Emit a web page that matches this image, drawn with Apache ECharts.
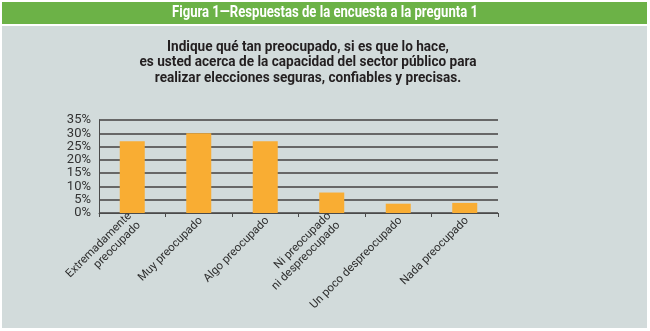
<!DOCTYPE html>
<html>
<head>
<meta charset="utf-8">
<script src="https://cdn.jsdelivr.net/npm/echarts@6/dist/echarts.min.js"></script>
<style>
  html, body { margin: 0; padding: 0; background: #ffffff; }
  #chart { width: 650px; height: 331px; }
</style>
</head>
<body>
<div id="chart"></div>
<script>
// Survey responses (percent of respondents)
const categories = [
  'Extremadamente\npreocupado',
  'Muy preocupado',
  'Algo preocupado',
  'Ni preocupado\nni despreocupado',
  'Un poco despreocupado',
  'Nada preocupado'
];
const percentages = [27, 30, 27, 7.7, 3.5, 3.8];
const yTicks = { min: 0, max: 35, step: 5 };

const headerText = 'Figura 1\u2014Respuestas de la encuesta a la pregunta 1';
const questionLines = [
  'Indique qué tan preocupado, si es que lo hace,',
  'es usted acerca de la capacidad del sector público para',
  'realizar elecciones seguras, confiables y precisas.'
];

const baseFont = 'Roboto, "Noto Sans", sans-serif';

// Condensed look: squeeze a bold line horizontally to a given width
const measureCtx = document.createElement('canvas').getContext('2d');
function squeezeFor(text, font, targetWidth) {
  measureCtx.font = font;
  return Math.min(1, targetWidth / measureCtx.measureText(text).width);
}

const headerFont = 'bold 16px ' + baseFont;
const questionFont = 'bold 15px ' + baseFont;
const headerScale = squeezeFor(headerText, headerFont, 306);
const questionScale = squeezeFor(questionLines[1], questionFont, 337);

const chart = echarts.init(document.getElementById('chart'), null, { renderer: 'canvas' });

chart.setOption({
  backgroundColor: '#ffffff',
  animation: false,
  graphic: [
    // green header band
    { type: 'rect', z: -10, shape: { x: 2, y: 2, width: 645, height: 22 }, style: { fill: '#6cb247' } },
    // grey panel
    { type: 'rect', z: -10, shape: { x: 2, y: 26, width: 645, height: 302 }, style: { fill: '#d2dbdb' } },
    {
      type: 'text', x: 325, y: 13, scaleX: headerScale,
      style: {
        text: headerText, fill: '#ffffff', font: headerFont,
        textAlign: 'center', textVerticalAlign: 'middle'
      }
    },
    {
      type: 'text', x: 308, y: 39, scaleX: questionScale,
      style: {
        text: questionLines.join('\n'), fill: '#231f20', font: questionFont,
        textAlign: 'center', textVerticalAlign: 'top', lineHeight: 15.5
      }
    }
  ],
  grid: { left: 99, right: 152, top: 120, bottom: 118 },
  xAxis: {
    type: 'category',
    data: categories,
    axisLine: { show: true, lineStyle: { color: '#4a4a4a', width: 1 } },
    axisTick: { show: true, alignWithLabel: false, length: 4, lineStyle: { color: '#4a4a4a' } },
    axisLabel: {
      interval: 0, rotate: 45, margin: 8,
      padding: [5, -3, 0, 0],
      fontFamily: baseFont, fontSize: 11.5, color: '#2e2e2e', lineHeight: 13
    }
  },
  yAxis: {
    type: 'value',
    min: yTicks.min, max: yTicks.max, interval: yTicks.step,
    axisLine: { show: true, lineStyle: { color: '#4a4a4a', width: 1 } },
    axisTick: { show: false },
    axisLabel: {
      formatter: '{value}%', margin: 8,
      fontFamily: baseFont, fontSize: 13, color: '#333333'
    },
    splitLine: { show: true, lineStyle: { color: '#676767', width: 2 } }
  },
  series: [{
    type: 'bar',
    data: percentages,
    barWidth: 25,
    itemStyle: { color: '#f9ad33' }
  }]
});
</script>
</body>
</html>
